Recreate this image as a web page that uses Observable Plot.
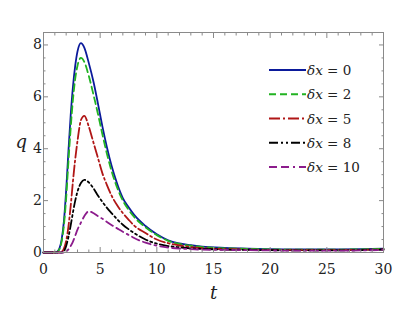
<!DOCTYPE html>
<html><head><meta charset="utf-8">
<script src="https://cdn.jsdelivr.net/npm/d3@7"></script>
<script src="https://cdn.jsdelivr.net/npm/@observablehq/plot@0.6"></script>
<style>
html,body{margin:0;padding:0;background:#fff;}
#wrap{position:relative;width:415px;height:313px;}
#legend{position:absolute;left:0;top:0;pointer-events:none;font-family:"DejaVu Serif";}
#legend text{font-family:"DejaVu Serif";}
</style></head><body><div id="wrap"></div>
<script>
// time grid
const tGrid = [0,1.0,1.2,1.4,1.6,1.8,2.0,2.2,2.4,2.6,2.8,3.0,3.3,3.6,4.0,4.4,4.8,5.2,5.6,6.0,6.5,7,7.5,8,9,10,11,12,13,14,16,18,20,22,25,28,30];
// q values for each δx
const qDx0  = [0,0,0.03,0.15,0.5,1.2,2.4,3.9,5.3,6.4,7.2,7.75,8.07,7.9,7.3,6.6,5.75,4.85,4.05,3.35,2.65,2.1,1.75,1.45,1.02,0.7,0.47,0.35,0.28,0.23,0.18,0.15,0.13,0.12,0.12,0.13,0.15];
const qDx2  = [0,0,0.02,0.12,0.42,1.05,2.1,3.5,4.8,5.9,6.7,7.2,7.5,7.35,6.8,6.1,5.35,4.55,3.8,3.15,2.5,2.0,1.65,1.37,0.97,0.67,0.45,0.33,0.26,0.21,0.16,0.14,0.12,0.11,0.11,0.12,0.14];
const qDx5  = [0,0,0,0,0.03,0.15,0.45,1.0,1.8,2.75,3.6,4.3,5.1,5.27,4.85,4.25,3.65,3.05,2.6,2.2,1.82,1.52,1.27,1.04,0.75,0.5,0.36,0.27,0.21,0.17,0.13,0.11,0.1,0.09,0.09,0.1,0.12];
const qDx8  = [0,0,0,0,0,0.05,0.25,0.6,1.05,1.55,2.0,2.35,2.68,2.8,2.7,2.48,2.2,1.95,1.72,1.52,1.28,1.07,0.9,0.75,0.5,0.34,0.25,0.2,0.16,0.14,0.11,0.1,0.09,0.08,0.08,0.09,0.11];
const qDx10 = [0,0,0,0,0,0,0.04,0.12,0.25,0.42,0.65,0.88,1.15,1.4,1.59,1.52,1.4,1.3,1.18,1.06,0.93,0.8,0.68,0.56,0.38,0.26,0.19,0.15,0.13,0.11,0.1,0.09,0.08,0.07,0.07,0.08,0.1];

const seriesLabels = ["0","2","5","8","10"];
const seriesValues = [qDx0,qDx2,qDx5,qDx8,qDx10];
const seriesColors = ["#0b1a9b","#22b322","#b01616","#000000","#8c1c8c"];
const seriesDashes = [null,"7,4","11,3,2,3","9,3,2,3,2,3","8,4,8,4,2,4"];

const xMajor = [0,5,10,15,20,25,30];
const yMajor = [0,2,4,6,8];
const xMinor = d3.range(0,31,1).filter(v => v % 5 !== 0);
const yMinor = d3.range(0,8.5,0.5).filter(v => v % 2 !== 0);

const frameColor = "#8a8a8a";
const serif = "DejaVu Serif";

const lines = seriesValues.map((vals, k) => Plot.line(
  tGrid.map((tt, i) => ({t: tt, q: vals[i]})),
  {x: "t", y: "q", stroke: seriesColors[k], strokeWidth: 1.8,
   strokeDasharray: seriesDashes[k], curve: "monotone-x"}));

const noText = () => "";
const chart = Plot.plot({
  width: 415, height: 313,
  marginLeft: 43, marginRight: 32, marginTop: 32, marginBottom: 61,
  style: {fontFamily: serif, fontSize: "14px", background: "#fff", color: "#222"},
  x: {domain: [0, 30]},
  y: {domain: [0, 8.48]},
  marks: [
    ...lines,
    Plot.frame({stroke: frameColor, strokeWidth: 1}),
    Plot.axisX(xMajor, {anchor: "bottom", tickSize: -5, tickPadding: 17, stroke: frameColor, label: null, fontSize: 14, fill: "#222"}),
    Plot.axisX(xMinor, {anchor: "bottom", tickSize: -2.5, stroke: frameColor, label: null, tickFormat: noText}),
    Plot.axisX(xMajor, {anchor: "top", tickSize: -5, stroke: frameColor, label: null, tickFormat: noText}),
    Plot.axisX(xMinor, {anchor: "top", tickSize: -2.5, stroke: frameColor, label: null, tickFormat: noText}),
    Plot.axisY(yMajor, {anchor: "left", tickSize: -5, tickPadding: 6.5, stroke: frameColor, label: null, fontSize: 14, fill: "#222"}),
    Plot.axisY(yMinor, {anchor: "left", tickSize: -2.5, stroke: frameColor, label: null, tickFormat: noText}),
    Plot.axisY(yMajor, {anchor: "right", tickSize: -5, stroke: frameColor, label: null, tickFormat: noText}),
    Plot.axisY(yMinor, {anchor: "right", tickSize: -2.5, stroke: frameColor, label: null, tickFormat: noText}),
    Plot.text(["t"], {frameAnchor: "bottom", text: d => d, dy: 46, fontSize: 18, fontStyle: "italic", fill: "#222"}),
    Plot.text(["q"], {frameAnchor: "left", text: d => d, dx: -28, fontSize: 18, fontStyle: "italic", fill: "#222"})
  ]
});
const wrap = document.getElementById("wrap");
wrap.appendChild(chart);

// legend overlay inside the frame
const leg = d3.select(wrap).append("svg").attr("id", "legend")
  .attr("width", 415).attr("height", 313);
seriesLabels.forEach((lab, k) => {
  const y = 70 + k * 24.25;
  leg.append("line").attr("x1", 269).attr("x2", 306).attr("y1", y).attr("y2", y)
    .attr("stroke", seriesColors[k]).attr("stroke-width", 2)
    .attr("stroke-dasharray", seriesDashes[k]);
  const tx = leg.append("text").attr("x", 307).attr("y", y + 5)
    .attr("font-family", serif).attr("font-size", 13.5).attr("fill", "#222");
  tx.append("tspan").attr("font-style", "italic").text("δx");
  tx.append("tspan").text(" = " + lab);
});
</script></body></html>
